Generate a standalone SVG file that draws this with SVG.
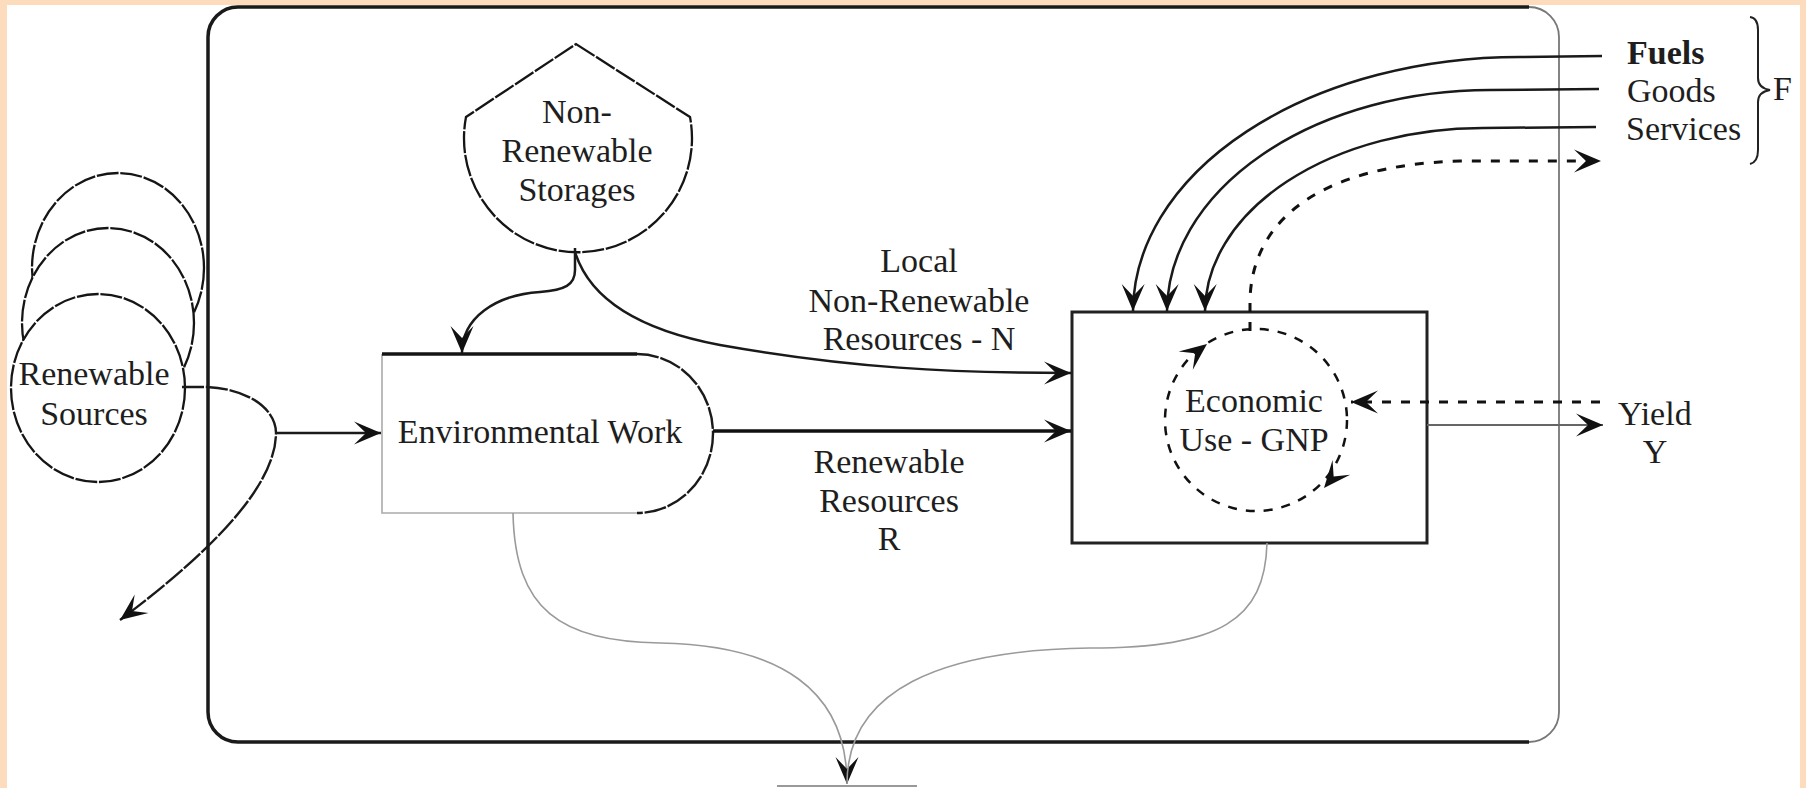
<svg xmlns="http://www.w3.org/2000/svg" width="1806" height="788" viewBox="0 0 1806 788">
<style>
.t{font-family:"Liberation Serif","Times New Roman",serif;font-size:34px;fill:#1e1e1e;text-anchor:middle}
.ts{font-family:"Liberation Serif","Times New Roman",serif;font-size:34px;fill:#1e1e1e;text-anchor:start}
.sk{fill:#fff;stroke:#151515;stroke-width:2.3;stroke-dasharray:22 1.8}
.ln{fill:none;stroke:#1a1a1a;stroke-width:2.5}
.skl{fill:none;stroke:#1a1a1a;stroke-width:2.4;stroke-dasharray:22 1.8}
.dot{fill:none;stroke:#111;stroke-width:3;stroke-dasharray:9 10}
.grey{fill:none;stroke:#9a9a9a;stroke-width:1.6}
.ah{fill:#111}
</style>
<defs>
<marker id="arr" viewBox="-29 -13 31 26" refX="0" refY="0" markerWidth="31" markerHeight="26" markerUnits="userSpaceOnUse" orient="auto">
<path d="M0,0 L-27,-11.5 L-15,0 L-27,11.5 Z" fill="#111"/>
</marker>
</defs>
<rect x="0" y="0" width="1806" height="788" fill="#fff"/>

<g id="system-boundary">
<path d="M1529,7 H238 A30,30 0 0 0 208,37 V712 A30,30 0 0 0 238,742 H1529" fill="none" stroke="#1a1a1a" stroke-width="3.5"/>
<path d="M1529,7 A30,30 0 0 1 1559,37 V712 A30,30 0 0 1 1529,742" fill="none" stroke="#777" stroke-width="1.8"/>
</g>

<g id="renewable-sources">
<ellipse class="sk" cx="118" cy="268" rx="86" ry="95"/>
<ellipse class="sk" cx="108" cy="323" rx="86" ry="95"/>
<ellipse class="sk" cx="98" cy="388" rx="87" ry="94"/>
<text class="t" x="94" y="385">Renewable</text>
<text class="t" x="94" y="425">Sources</text>
</g>

<g id="non-renewable-storages">
<path class="sk" d="M576,44 L690,117 A114,114 0 1 1 466,117 Z"/>
<text class="t" x="577" y="123">Non-</text>
<text class="t" x="577" y="162">Renewable</text>
<text class="t" x="577" y="201">Storages</text>
</g>

<g id="environmental-work">
<path d="M637,513 H382 V354" fill="none" stroke="#aaa" stroke-width="1.6"/>
<path d="M382,354 H637" fill="none" stroke="#151515" stroke-width="3.5"/>
<path class="skl" d="M637,354 A76,79.5 0 0 1 637,513"/>
<text class="t" x="540" y="443">Environmental Work</text>
</g>

<g id="economic-use">
<rect x="1072" y="312" width="355" height="231" fill="none" stroke="#222" stroke-width="3"/>
<circle cx="1256" cy="420" r="91" fill="none" stroke="#111" stroke-width="2.5" stroke-dasharray="9 9"/>
<path class="ah" d="M0,0 L-27,-11.5 L-15,0 L-27,11.5 Z" transform="translate(1207,344) rotate(-38)"/>
<path class="ah" d="M0,0 L-27,-11.5 L-15,0 L-27,11.5 Z" transform="translate(1324,488) rotate(130)"/>
<text class="t" x="1254" y="412">Economic</text>
<text class="t" x="1254" y="451">Use - GNP</text>
</g>

<g id="heat-sink">
<path d="M777,786 H917" fill="none" stroke="#999" stroke-width="1.8"/>
</g>

<g id="purchased-inputs">
<text class="ts" x="1627" y="64" font-weight="bold">Fuels</text>
<text class="ts" x="1627" y="102">Goods</text>
<text class="ts" x="1626" y="140">Services</text>
<path d="M1750,17 Q1758,18 1758,30 V78 Q1758,88 1770,90 Q1758,92 1758,102 V150 Q1758,162 1750,164" fill="none" stroke="#222" stroke-width="2"/>
<text class="ts" x="1773" y="100">F</text>
</g>

<g id="yield">
<text class="ts" x="1618" y="425">Yield</text>
<text class="t" x="1655" y="463">Y</text>
</g>

<g id="flow-labels">
<text class="t" x="919" y="272">Local</text>
<text class="t" x="919" y="312">Non-Renewable</text>
<text class="t" x="919" y="350">Resources - N</text>
<text class="t" x="889" y="473">Renewable</text>
<text class="t" x="889" y="512">Resources</text>
<text class="t" x="889" y="550">R</text>
</g>

<g id="connectors">
<path class="skl" d="M182,387 H207 C250,389 276,410 276,433 C276,490 200,560 120,620" marker-end="url(#arr)"/>
<path class="ln" d="M276,433 H381" marker-end="url(#arr)"/>
<path class="ln" d="M575,248 V270 C575,285 565,290 540,292 C495,295 462,318 462,353" marker-end="url(#arr)"/>
<path class="ln" d="M575,252 C590,300 640,330 720,345 C850,368 950,373 1071,373" marker-end="url(#arr)"/>
<path d="M713,431 H1071" fill="none" stroke="#111" stroke-width="3.5" marker-end="url(#arr)"/>
<path class="ln" d="M1602,56 L1520,57 A387,255 0 0 0 1133,311" marker-end="url(#arr)"/>
<path class="ln" d="M1599,89 L1490,90 A323,222 0 0 0 1167,311" marker-end="url(#arr)"/>
<path class="ln" d="M1596,127 L1483,128 A278,184 0 0 0 1205,311" marker-end="url(#arr)"/>
<path class="dot" d="M1250,331 V300 C1252,220 1320,165 1460,161 H1601" marker-end="url(#arr)"/>
<path class="dot" d="M1600,402 H1351" marker-end="url(#arr)"/>
<path d="M1427,425 H1603" fill="none" stroke="#666" stroke-width="1.8" marker-end="url(#arr)"/>
<path class="grey" d="M513,513 C515,610 560,641 660,643 C780,645 847,690 847,784" marker-end="url(#arr)"/>
<path class="grey" d="M1267,543 C1265,620 1220,648 1090,648 C940,650 847,690 847,784"/>
</g>

<path d="M0,0 H1806 V788 H0 Z M7,5 V788 H1800 V5 Z" fill="#fcdcbd" fill-rule="evenodd"/>
</svg>
